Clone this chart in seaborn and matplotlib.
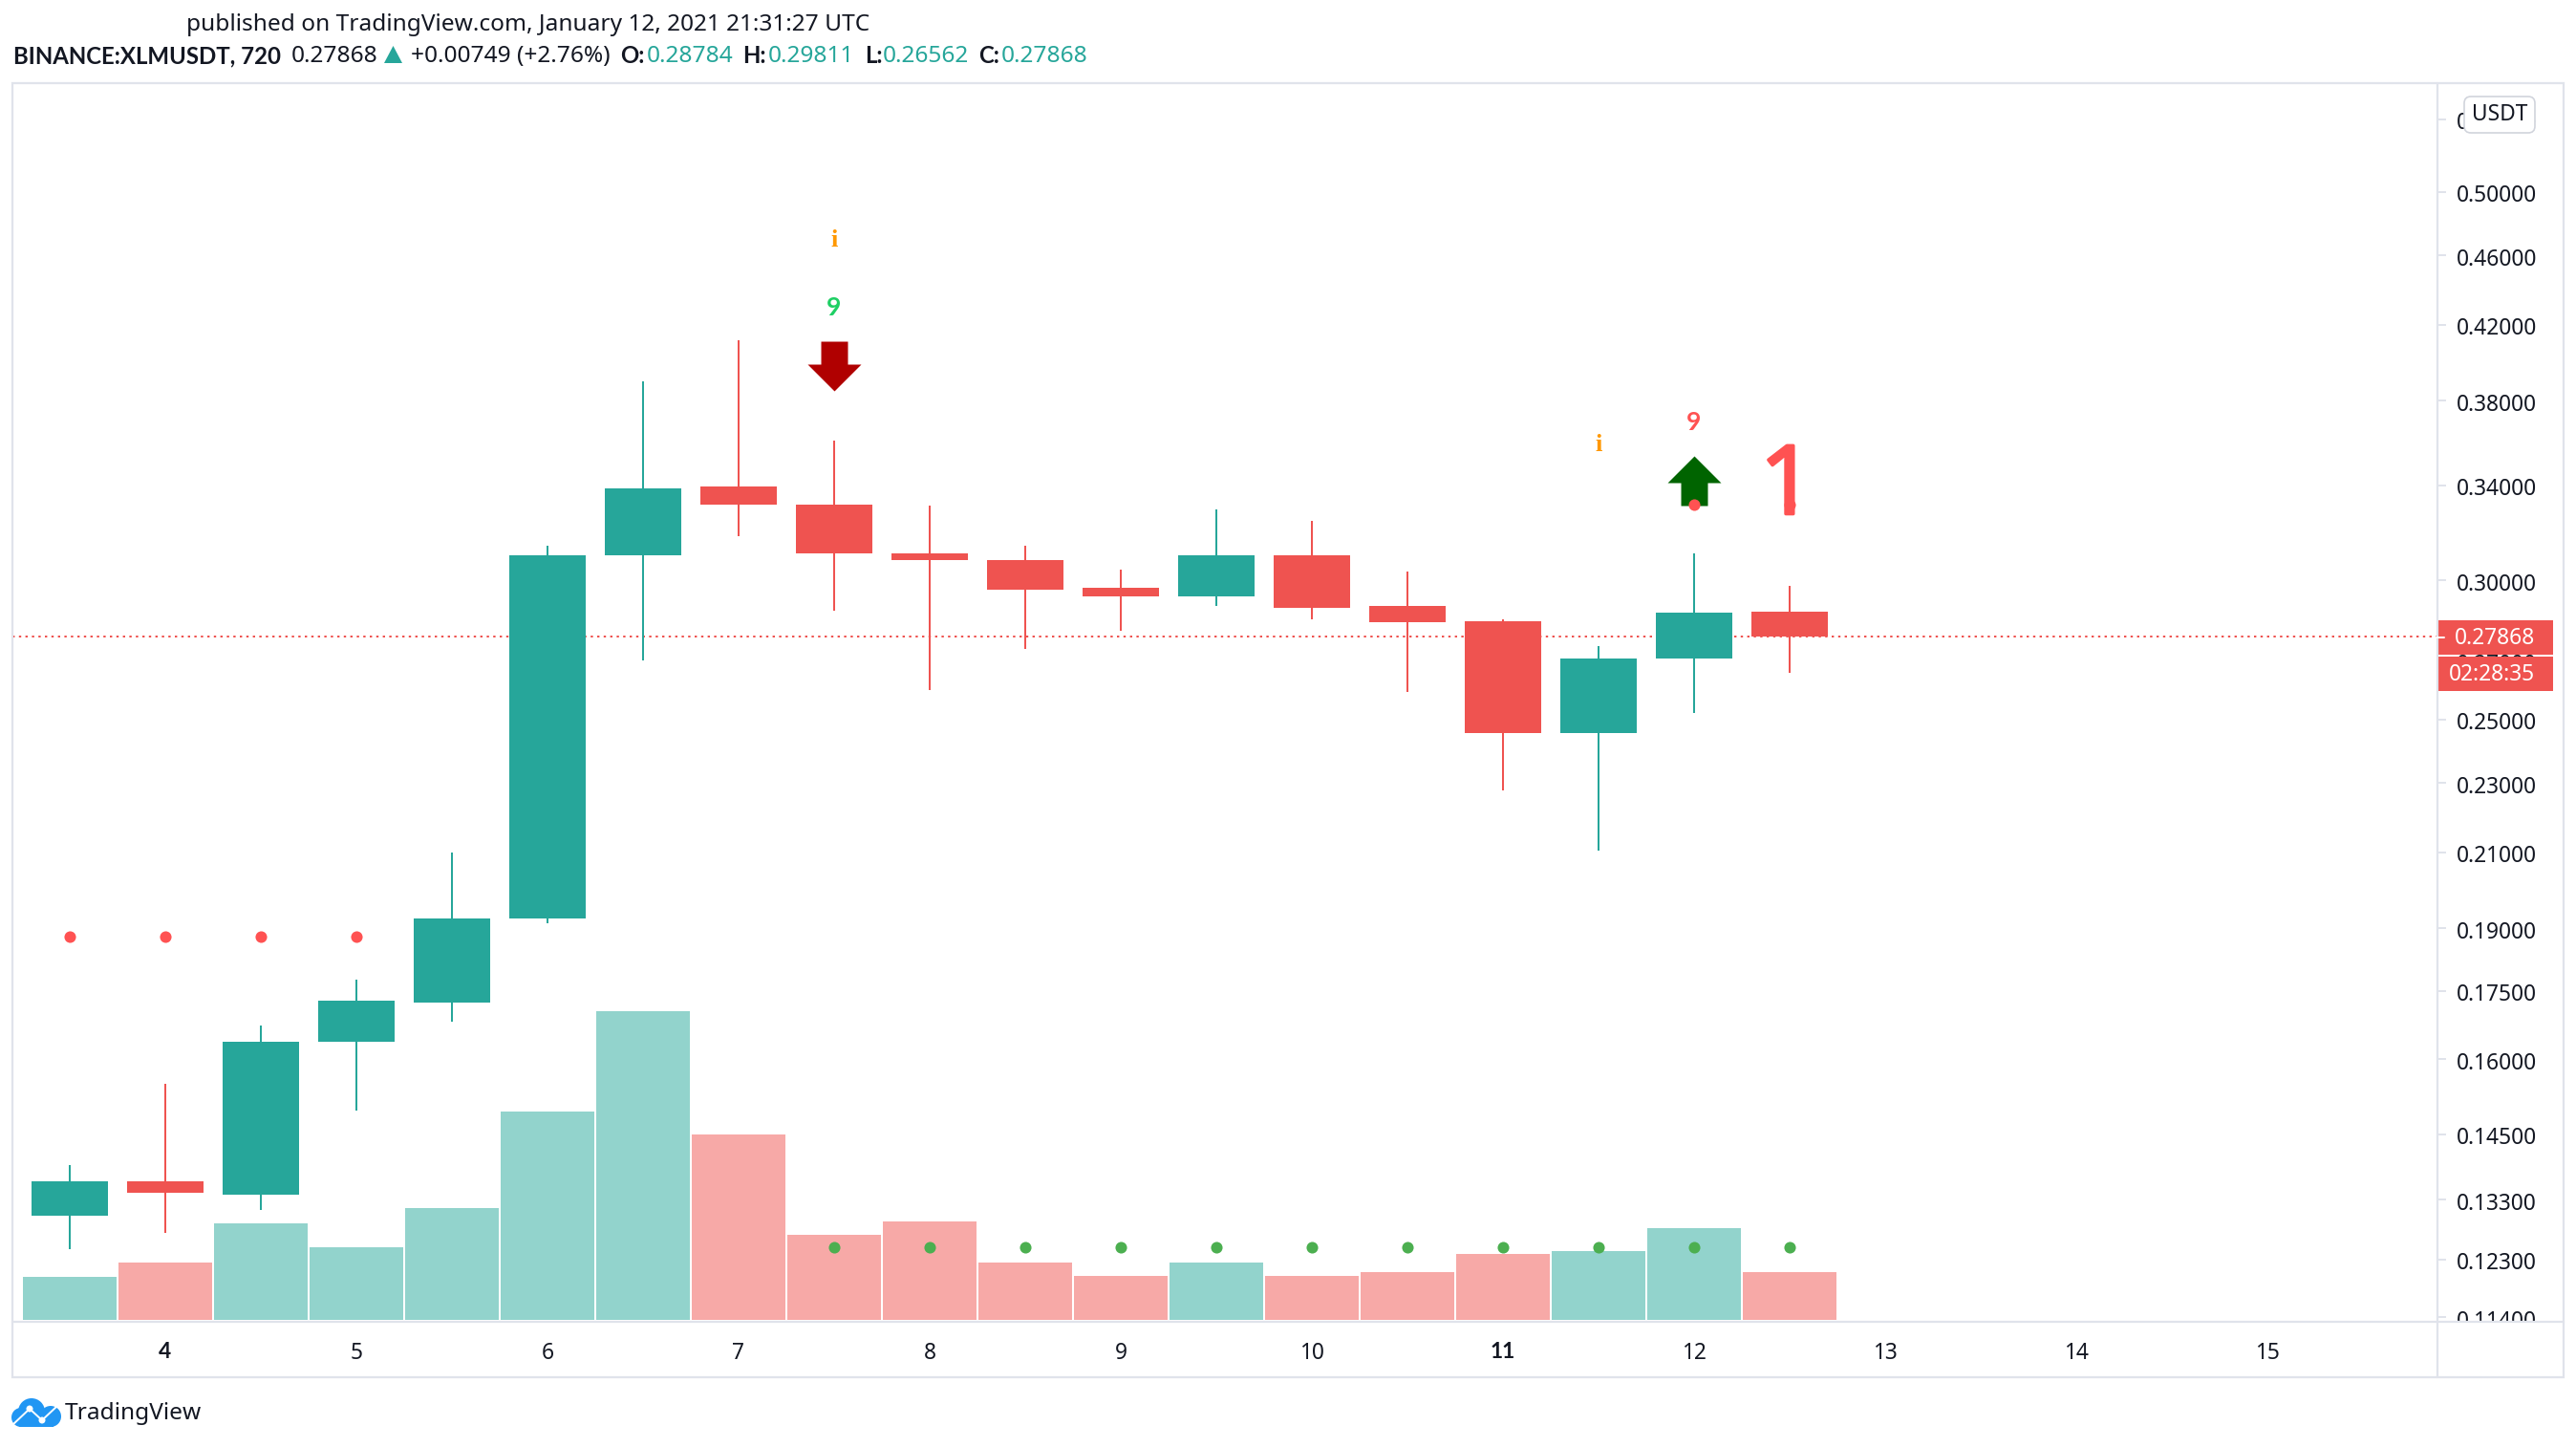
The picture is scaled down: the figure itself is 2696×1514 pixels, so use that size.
import numpy as np
import pandas as pd
import matplotlib
matplotlib.use('Agg')
import matplotlib.pyplot as plt
import matplotlib.patheffects as pe
import seaborn as sns
from matplotlib.path import Path
from matplotlib.patches import Rectangle, Circle, Polygon, FancyBboxPatch
from matplotlib.transforms import ScaledTranslation

# candles 12h, BINANCE:XLMUSDT
days = [3.5, 4, 4.5, 5, 5.5, 6, 6.5, 7, 7.5, 8, 8.5, 9, 9.5, 10, 10.5, 11, 11.5, 12, 12.5]
opens = [.1302, .1363, .1339, .1637, .1724, .1925, .3101, .3395, .3316, .3108, .3081, .2970, .2938, .3101, .2900, .2845, .2456, .2707, .28784]
closes = [.1363, .1342, .1637, .1728, .1925, .3101, .3388, .3316, .3108, .3081, .2964, .2938, .3101, .2894, .2839, .2456, .2707, .2876, .27868]
highs = [.1392, .1548, .1673, .1777, .2098, .3142, .3899, .4115, .3607, .3309, .3142, .3042, .3294, .3245, .3035, .2851, .2754, .3108, .29811]
lows = [.1247, .1274, .1313, .1495, .1680, .1912, .2701, .3182, .2882, .2598, .2742, .2808, .2900, .2851, .2593, .2277, .2103, .2521, .26562]
volumes = [26, 35, 59, 44, 68, 127, 188, 113, 52, 60, 35, 27, 35, 27, 29, 40, 42, 56, 29]

# pontos do indicador
red_dot_days = [3.5, 4, 4.5, 5, 12, 12.5]
red_dot_prices = [.188, .188, .188, .188, .3316, .3316]
green_dot_days = [7.5, 8, 8.5, 9, 9.5, 10, 10.5, 11, 11.5, 12, 12.5]
green_dot_prices = [.125] * 11

last_price = 0.27868
price_ticks = [.55, .5, .46, .42, .38, .34, .30, .27, .25, .23, .21, .19, .175, .16, .145, .133, .123, .114]
day_ticks = [4, 5, 6, 7, 8, 9, 10, 11, 12, 13, 14, 15]

W, H = 2696, 1514
GREEN, RED = '#26a69a', '#ef5350'
FRAME = '#e0e3eb'
TXT = '#131722'

sns.set_theme(style='white')
plt.rcParams['font.family'] = ['Noto Sans', 'DejaVu Sans']

df = pd.DataFrame({'day': days, 'open': opens, 'close': closes, 'high': highs, 'low': lows, 'volume': volumes})
df['dir'] = np.where(df['close'] >= df['open'], 'up', 'down')

fig = plt.figure(figsize=(W / 200, H / 200), dpi=200, facecolor='white')
ax_vol = fig.add_axes([13 / W, 1 - 1383 / H, (2551 - 13) / W, (1383 - 87) / H])

# volume por baixo
sns.barplot(data=df, x='day', y='volume', hue='dir', dodge=False, native_scale=True, width=0.98, linewidth=0,
            palette={'up': '#92d3cc', 'down': '#f7a9a7'}, legend=False, saturation=1, ax=ax_vol)
ax_vol.set_xlim(3.2, 15.89)
ax_vol.set_ylim(-1.16, 752.6)
ax_vol.set_xlabel('')
ax_vol.set_ylabel('')
ax_vol.set_xticks(day_ticks, labels=[str(d) for d in day_ticks])
ax_vol.tick_params(axis='x', length=2.5, width=0.72, color=FRAME, labelsize=8.2, labelcolor=TXT, pad=5)
for lab in ax_vol.get_xticklabels():
    if lab.get_text() in ('4', '11'):
        lab.set_fontweight('bold')
        lab.set_family('Lato')
for s in ax_vol.spines.values():
    s.set_visible(False)

# candles por cima
ax = ax_vol.twinx()
ax_vol.tick_params(axis='y', left=False, labelleft=False, right=False, labelright=False)
ax.set_yscale('log')
ax.set_ylim(.1133, .5767)
body_colors = df['dir'].map({'up': GREEN, 'down': RED})
ax.vlines(df['day'], df['low'], df['high'], colors=body_colors, linewidth=0.72, zorder=2)
ax.bar(df['day'], (df['close'] - df['open']).abs(), bottom=df[['open', 'close']].min(axis=1),
       width=0.4, color=body_colors, linewidth=0, zorder=3)
ax.axhline(last_price, color=RED, linewidth=0.72, linestyle=(0, (1.2, 2.2)), zorder=1)

sns.scatterplot(x=red_dot_days, y=red_dot_prices, color='#ff5252', s=19, linewidth=0, ax=ax, zorder=5, legend=False)
sns.scatterplot(x=green_dot_days, y=green_dot_prices, color='#4caf50', s=19, linewidth=0, ax=ax, zorder=5, legend=False)

# setas
up_arrow = Path([(-14, -26), (14, -26), (14, -2), (28, -2), (0, 26), (-28, -2), (-14, -2), (-14, -26)], closed=True)
down_arrow = Path([(-14, 26), (14, 26), (14, 2), (28, 2), (0, -26), (-28, 2), (-14, 2), (-14, 26)], closed=True)
sns.scatterplot(x=[12], y=[.3420], marker=up_arrow, color='#006400', s=406, linewidth=0, ax=ax, zorder=4, legend=False)
sns.scatterplot(x=[7.5], y=[.3975], marker=down_arrow, color='#b00000', s=406, linewidth=0, ax=ax, zorder=4, legend=False)

ax.text(7.5, .4692, 'i', color='#ff9800', fontsize=9.5, fontweight='bold', family='Liberation Serif', ha='center', va='center')
ax.text(11.5, .3587, 'i', color='#ff9800', fontsize=9.5, fontweight='bold', family='Liberation Serif', ha='center', va='center')
ax.text(7.5, .4295, '9', color='#1ecf64', fontsize=9.5, fontweight='bold', family='Lato', ha='center', va='center')
ax.text(12, .3694, '9', color='#ff5252', fontsize=9.5, fontweight='bold', family='Lato', ha='center', va='center')
one = ax.text(12.63, .3275, '1', color='#ff5252', fontsize=36, family='Open Sans', ha='right', va='baseline', zorder=6)
one.set_path_effects([pe.withStroke(linewidth=1.2, foreground='#ff5252')])

ax.set_yticks(price_ticks, labels=['%.5f' % p for p in price_ticks])
ax.set_yticks([], minor=True)
ax.tick_params(axis='y', which='major', length=3.2, width=0.72, color=FRAME, labelsize=8.2, labelcolor=TXT, pad=4)
down_shift = ScaledTranslation(0, -1.5 / 200, fig.dpi_scale_trans)
for lab in ax.get_yticklabels():
    lab.set_transform(lab.get_transform() + down_shift)
ax.set_ylabel('')
ax.grid(False)
for s in ax.spines.values():
    s.set_visible(False)

# moldura, cabecalho e logo em pixels
ov = fig.add_axes([0, 0, 1, 1], zorder=10)
ov.set_xlim(0, W)
ov.set_ylim(H, 0)
ov.axis('off')
ov.patch.set_alpha(0)

ov.add_patch(Rectangle((2553, 1384), 128, 56, color='white', linewidth=0))
ov.add_patch(Rectangle((13, 87), 2670, 1354, fill=False, edgecolor=FRAME, linewidth=0.8))
ov.plot([13, 2683], [1383, 1383], color=FRAME, linewidth=0.8)
ov.plot([2551, 2551], [87, 1441], color=FRAME, linewidth=0.8)

ov.add_patch(FancyBboxPatch((2585, 107), 62, 26, boxstyle='round,pad=6,rounding_size=7', facecolor='white', edgecolor='#d1d4dc', linewidth=0.6))
ov.text(2616, 120, 'USDT', color=TXT, fontsize=8.2, ha='center', va='center')

ov.add_patch(Rectangle((2550, 649), 122, 36, color=RED, linewidth=0))
ov.add_patch(Rectangle((2552, 687), 120, 36, color=RED, linewidth=0))
ov.plot([2550, 2558], [667, 667], color='white', linewidth=0.72)
ov.text(2611, 668.5, '0.27868', color='white', fontsize=8.2, ha='center', va='center')
ov.text(2608, 706.5, '02:28:35', color='white', fontsize=8.2, ha='center', va='center')

ov.text(195, 26, 'published on TradingView.com, January 12, 2021 21:31:27 UTC', color=TXT, fontsize=8.8, va='center')
line2 = [(14, 'BINANCE:XLMUSDT, 720', TXT, 'bold'), (305, '0.27868', TXT, 'normal'), (430, '+0.00749 (+2.76%)', TXT, 'normal'),
         (649, 'O:', TXT, 'bold'), (677, '0.28784', GREEN, 'normal'), (777, 'H:', TXT, 'bold'), (804, '0.29811', GREEN, 'normal'),
         (905, 'L:', TXT, 'bold'), (924, '0.26562', GREEN, 'normal'), (1024, 'C:', TXT, 'bold'), (1048, '0.27868', GREEN, 'normal')]
for x0, s, c, w in line2:
    if w == 'bold':
        ov.text(x0, 59, s, color=c, fontsize=8.65, fontweight=w, family='Lato', va='center')
    else:
        ov.text(x0, 59, s, color=c, fontsize=8.8, va='center')
ov.add_patch(Polygon([(402, 66), (421, 66), (411.5, 48)], color=GREEN, linewidth=0))

# nuvem do logo
for cx, cy, r in [(33, 1477, 14), (22, 1483, 10), (53, 1482, 11)]:
    ov.add_patch(Circle((cx, cy), r, color='#2196f3', linewidth=0))
ov.add_patch(Rectangle((20, 1482), 36, 11, color='#2196f3', linewidth=0))
ov.plot([13, 31, 44, 60], [1491, 1474, 1486, 1471], color='white', linewidth=0.7)
ov.add_patch(Circle((31, 1474), 3.5, color='white', linewidth=0))
ov.add_patch(Circle((44, 1486), 3.5, color='white', linewidth=0))
ov.text(68, 1479, 'TradingView', color=TXT, fontsize=8.8, va='center')

fig.savefig('out.png', dpi=200)
